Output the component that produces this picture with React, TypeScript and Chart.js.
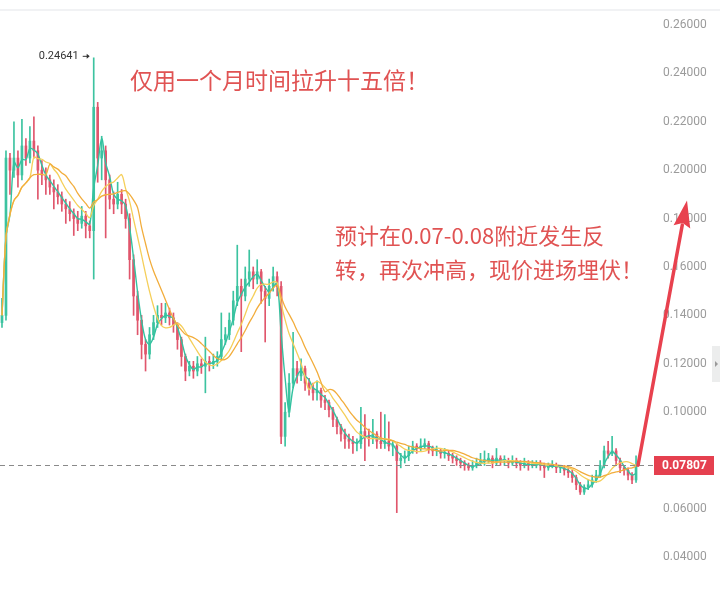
import React, { useEffect, useRef } from "react";
import { Chart, registerables } from "chart.js";

Chart.register(...registerables);

// Candle series (one entry per bar). Open of each bar is the previous close.
const firstOpen = 0.137;
const closes = [
  0.140, 0.205, 0.200, 0.205, 0.198, 0.210, 0.205, 0.212, 0.208, 0.200,
  0.198, 0.196, 0.193, 0.191, 0.189, 0.186, 0.184, 0.182, 0.180, 0.178,
  0.181, 0.177, 0.175, 0.226, 0.205, 0.208, 0.196, 0.188, 0.186, 0.190,
  0.186, 0.180, 0.163, 0.148, 0.138, 0.128, 0.124, 0.132, 0.137, 0.140,
  0.139, 0.141, 0.139, 0.136, 0.130, 0.123, 0.117, 0.119, 0.117, 0.120,
  0.119, 0.121, 0.120, 0.121, 0.123, 0.130, 0.132, 0.138, 0.146, 0.152,
  0.148, 0.155, 0.158, 0.155, 0.158, 0.150, 0.147, 0.152, 0.156, 0.152,
  0.090, 0.100, 0.112, 0.118, 0.115, 0.118, 0.112, 0.110, 0.108, 0.109,
  0.105, 0.104, 0.101, 0.097, 0.094, 0.091, 0.089, 0.088, 0.087, 0.087,
  0.092, 0.090, 0.089, 0.091, 0.088, 0.087, 0.088, 0.086, 0.086, 0.080,
  0.081, 0.082, 0.084, 0.086, 0.085, 0.086, 0.087, 0.085, 0.084, 0.084,
  0.083, 0.083, 0.082, 0.081, 0.080, 0.079, 0.078, 0.077, 0.078, 0.079,
  0.080, 0.080, 0.081, 0.079, 0.081, 0.080, 0.080, 0.079, 0.080, 0.079,
  0.078, 0.079, 0.078, 0.078, 0.079, 0.078, 0.077, 0.078, 0.078, 0.077,
  0.077, 0.076, 0.075, 0.073, 0.070, 0.067, 0.069, 0.070, 0.072, 0.074,
  0.078, 0.084, 0.083, 0.084, 0.080, 0.077, 0.076, 0.074, 0.072, 0.07807,
];
const highs = [
  0.147, 0.208, 0.207, 0.220, 0.208, 0.221, 0.213, 0.218, 0.222, 0.210,
  0.204, 0.201, 0.198, 0.196, 0.194, 0.191, 0.188, 0.187, 0.184, 0.183,
  0.185, 0.183, 0.179, 0.24641, 0.228, 0.214, 0.210, 0.198, 0.191, 0.195,
  0.192, 0.188, 0.182, 0.165, 0.150, 0.140, 0.130, 0.135, 0.140, 0.144,
  0.145, 0.145, 0.143, 0.141, 0.137, 0.131, 0.124, 0.121, 0.121, 0.123,
  0.122, 0.131, 0.123, 0.124, 0.125, 0.141, 0.135, 0.141, 0.150, 0.169,
  0.155, 0.160, 0.167, 0.160, 0.163, 0.159, 0.152, 0.155, 0.160, 0.158,
  0.154, 0.104, 0.116, 0.133, 0.121, 0.122, 0.119, 0.114, 0.112, 0.113,
  0.110, 0.107, 0.105, 0.102, 0.098, 0.095, 0.093, 0.091, 0.090, 0.089,
  0.102, 0.099, 0.093, 0.097, 0.092, 0.100, 0.099, 0.096, 0.088, 0.087,
  0.083, 0.084, 0.086, 0.088, 0.087, 0.089, 0.089, 0.088, 0.086, 0.086,
  0.085, 0.085, 0.084, 0.083, 0.082, 0.081, 0.080, 0.079, 0.080, 0.081,
  0.083, 0.084, 0.083, 0.082, 0.085, 0.082, 0.082, 0.081, 0.082, 0.081,
  0.080, 0.081, 0.080, 0.080, 0.080, 0.080, 0.079, 0.079, 0.080, 0.079,
  0.078, 0.078, 0.077, 0.076, 0.074, 0.071, 0.070, 0.072, 0.074, 0.076,
  0.080, 0.086, 0.088, 0.090, 0.085, 0.081, 0.078, 0.077, 0.075, 0.082,
];
const lows = [
  0.135, 0.138, 0.190, 0.197, 0.193, 0.196, 0.202, 0.203, 0.205, 0.188,
  0.194, 0.190, 0.190, 0.184, 0.186, 0.183, 0.178, 0.179, 0.173, 0.175,
  0.176, 0.172, 0.172, 0.155, 0.195, 0.196, 0.172, 0.184, 0.182, 0.184,
  0.182, 0.176, 0.155, 0.140, 0.132, 0.122, 0.117, 0.122, 0.130, 0.135,
  0.136, 0.137, 0.136, 0.133, 0.126, 0.119, 0.113, 0.115, 0.114, 0.115,
  0.116, 0.108, 0.117, 0.118, 0.119, 0.122, 0.128, 0.130, 0.136, 0.144,
  0.125, 0.146, 0.152, 0.151, 0.153, 0.145, 0.129, 0.144, 0.150, 0.148,
  0.087, 0.086, 0.098, 0.110, 0.112, 0.113, 0.109, 0.107, 0.105, 0.105,
  0.102, 0.101, 0.098, 0.094, 0.091, 0.088, 0.085, 0.085, 0.083, 0.084,
  0.085, 0.080, 0.086, 0.087, 0.085, 0.085, 0.085, 0.084, 0.082, 0.0585,
  0.077, 0.079, 0.080, 0.083, 0.083, 0.084, 0.085, 0.083, 0.082, 0.082,
  0.081, 0.081, 0.080, 0.079, 0.078, 0.077, 0.076, 0.076, 0.076, 0.077,
  0.078, 0.078, 0.079, 0.077, 0.078, 0.078, 0.078, 0.077, 0.078, 0.077,
  0.076, 0.077, 0.076, 0.077, 0.077, 0.076, 0.073, 0.076, 0.077, 0.075,
  0.075, 0.074, 0.073, 0.071, 0.068, 0.066, 0.066, 0.068, 0.069, 0.071,
  0.073, 0.077, 0.081, 0.082, 0.078, 0.075, 0.074, 0.072, 0.0705, 0.071,
];

// Price axis
const yTicks = [0.02, 0.04, 0.06, 0.08, 0.1, 0.12, 0.14, 0.16, 0.18, 0.2, 0.22, 0.24, 0.26];
const yMin = 0.0224;
const yMax = 0.2703;
const emptySlotsAfter = 3;

// Moving-average periods
const maFast = 3;
const maMid = 8;
const maSlow = 12;

// Notes on the chart
const headline = "仅用一个月时间拉升十五倍！";
const forecastLines = ["预计在0.07-0.08附近发生反", "转，再次冲高，现价进场埋伏！"];
const arrowTargetPrice = 0.1875;

const UP = "#3cc3a0";
const DOWN = "#e0566c";
const NOTE_RED = "#e05353";
const ARROW_RED = "#e8414e";
const AXIS_TEXT = "#9b9b9b";
const AXIS_FONT = "12px Roboto, 'Noto Sans', sans-serif";

function movingAverage(values: number[], period: number): number[] {
  return values.map((_, i) => {
    const start = Math.max(0, i - period + 1);
    const win = values.slice(start, i + 1);
    return win.reduce((a, b) => a + b, 0) / win.length;
  });
}

export default function App() {
  const canvasRef = useRef<HTMLCanvasElement | null>(null);

  useEffect(() => {
    document.body.style.margin = "0";
    const canvas = canvasRef.current;
    if (!canvas) return;

    const opens = closes.map((_, i) => (i === 0 ? firstOpen : closes[i - 1]));
    const colors = closes.map((c, i) => (c >= opens[i] ? UP : DOWN));
    const labels = [...closes.map((_, i) => String(i)), ...Array(emptySlotsAfter).fill("")];

    const wickData = closes.map((_, i) => [lows[i], highs[i]]);
    const bodyData = closes.map((c, i) => {
      const lo = Math.min(opens[i], c);
      const hi = Math.max(opens[i], c);
      return [lo, hi - lo < 0.0004 ? lo + 0.0004 : hi];
    });

    const overlay = {
      id: "overlay",
      beforeDraw(chart: any) {
        const { ctx, width } = chart;
        ctx.save();
        ctx.fillStyle = "#ffffff";
        ctx.fillRect(0, 0, width, chart.height);
        ctx.fillStyle = "#f1f2f4";
        ctx.fillRect(0, 9, width, 2);
        ctx.restore();
      },
      afterDatasetsDraw(chart: any) {
        const { ctx, chartArea } = chart;
        const xs = chart.scales.x;
        const ys = chart.scales.y;
        const last = closes.length - 1;
        const lastY = ys.getPixelForValue(closes[last]);

        ctx.save();
        // last price dashed line
        ctx.strokeStyle = "#8a8a8a";
        ctx.lineWidth = 1;
        ctx.setLineDash([5, 4]);
        ctx.beginPath();
        ctx.moveTo(chartArea.left, Math.round(lastY) + 0.5);
        ctx.lineTo(chartArea.right + 8, Math.round(lastY) + 0.5);
        ctx.stroke();
        ctx.setLineDash([]);

        // peak label
        let peakIdx = 0;
        highs.forEach((h, i) => {
          if (h > highs[peakIdx]) peakIdx = i;
        });
        const px = xs.getPixelForValue(peakIdx);
        const py = ys.getPixelForValue(highs[peakIdx]) - 2;
        ctx.fillStyle = "#333333";
        ctx.font = "11px Roboto, 'Noto Sans', sans-serif";
        ctx.textAlign = "right";
        ctx.textBaseline = "middle";
        ctx.fillText(highs[peakIdx].toFixed(5), px - 15, py);
        ctx.strokeStyle = "#333333";
        ctx.lineWidth = 1;
        ctx.beginPath();
        ctx.moveTo(px - 11, py + 0.5);
        ctx.lineTo(px - 5, py + 0.5);
        ctx.stroke();
        ctx.beginPath();
        ctx.moveTo(px - 4, py + 0.5);
        ctx.lineTo(px - 7, py - 2);
        ctx.lineTo(px - 7, py + 3);
        ctx.closePath();
        ctx.fillStyle = "#333333";
        ctx.fill();

        // notes
        ctx.fillStyle = NOTE_RED;
        ctx.textAlign = "left";
        ctx.font = "23px 'Noto Sans CJK SC', sans-serif";
        ctx.fillText(headline, 130, 80);
        ctx.font = "22px 'Noto Sans CJK SC', sans-serif";
        forecastLines.forEach((line, k) => ctx.fillText(line, 335, 236 + k * 34));
        ctx.restore();
      },
      afterDraw(chart: any) {
        const { ctx, chartArea } = chart;
        const xs = chart.scales.x;
        const ys = chart.scales.y;
        const last = closes.length - 1;
        const lastX = xs.getPixelForValue(last);
        const lastY = ys.getPixelForValue(closes[last]);
        const tagY = Math.round(lastY);

        ctx.save();
        // price axis labels (the one under the last-price tag is skipped)
        ctx.fillStyle = AXIS_TEXT;
        ctx.font = AXIS_FONT;
        ctx.textAlign = "left";
        ctx.textBaseline = "middle";
        yTicks.forEach((v) => {
          const y = ys.getPixelForValue(v);
          if (Math.abs(y - tagY) < 16) return;
          ctx.fillText(v.toFixed(5), chartArea.right + 13, y);
        });

        // right-edge tab
        ctx.fillStyle = "#eceded";
        ctx.fillRect(712, 346, 8, 36);
        ctx.fillStyle = "#9a9a9a";
        ctx.beginPath();
        ctx.moveTo(715, 361);
        ctx.lineTo(718, 364);
        ctx.lineTo(715, 367);
        ctx.closePath();
        ctx.fill();

        // last price tag
        ctx.fillStyle = "#e5404f";
        ctx.fillRect(chartArea.right + 4, tagY - 9, 60, 19);
        ctx.fillStyle = "#ffffff";
        ctx.font = "bold 12px Roboto, 'Noto Sans', sans-serif";
        ctx.fillText(closes[last].toFixed(5), chartArea.right + 12, tagY + 1);

        // projection arrow
        const tipX = chartArea.right + 37;
        const tipY = ys.getPixelForValue(arrowTargetPrice);
        const dx = tipX - lastX;
        const dy = tipY - lastY;
        const len = Math.hypot(dx, dy);
        const ux = dx / len;
        const uy = dy / len;
        const headLen = 27;
        const headHalf = 8.5;
        const bx = tipX - ux * headLen;
        const by = tipY - uy * headLen;
        ctx.strokeStyle = ARROW_RED;
        ctx.lineWidth = 3.5;
        ctx.lineCap = "round";
        ctx.beginPath();
        ctx.moveTo(lastX + 2, lastY);
        ctx.lineTo(bx + ux * 2, by + uy * 2);
        ctx.stroke();
        ctx.fillStyle = ARROW_RED;
        ctx.beginPath();
        ctx.moveTo(tipX, tipY);
        ctx.lineTo(bx - uy * headHalf, by + ux * headHalf);
        ctx.lineTo(bx + ux * 4, by + uy * 4);
        ctx.lineTo(bx + uy * headHalf, by - ux * headHalf);
        ctx.closePath();
        ctx.fill();
        ctx.restore();
      },
    };

    const lineDs = (data: number[], color: string, width: number) => ({
      type: "line" as const,
      data,
      borderColor: color,
      borderWidth: width,
      pointRadius: 0,
      tension: 0.35,
      fill: false,
      order: 1,
    });

    const chart = new Chart(canvas, {
      type: "bar",
      data: {
        labels,
        datasets: [
          {
            type: "bar",
            data: wickData as any,
            backgroundColor: colors,
            barThickness: 1,
            grouped: false,
            order: 4,
          },
          {
            type: "bar",
            data: bodyData as any,
            backgroundColor: colors,
            barThickness: 2,
            grouped: false,
            order: 3,
          },
          lineDs(movingAverage(closes, maSlow), "#f2ad3c", 1.3) as any,
          lineDs(movingAverage(closes, maMid), "#f5cf5a", 1.3) as any,
          lineDs(movingAverage(closes, maFast), "#33c2a0", 1.4) as any,
        ],
      },
      options: {
        animation: false,
        responsive: false,
        maintainAspectRatio: false,
        layout: { padding: 0 },
        plugins: { legend: { display: false }, tooltip: { enabled: false } },
        scales: {
          x: { display: false, offset: true },
          y: {
            position: "right",
            min: yMin,
            max: yMax,
            grid: { display: false, drawTicks: false },
            border: { display: false },
            ticks: { display: false },
            afterFit: (scale: any) => {
              scale.width = 70;
            },
          },
        },
      },
      plugins: [overlay],
    });

    return () => chart.destroy();
  }, []);

  return (
    <div style={{ position: "fixed", left: 0, top: 0, width: 720, height: 600, background: "#fff" }}>
      <canvas ref={canvasRef} width={720} height={600} style={{ display: "block", width: 720, height: 600 }} />
    </div>
  );
}
